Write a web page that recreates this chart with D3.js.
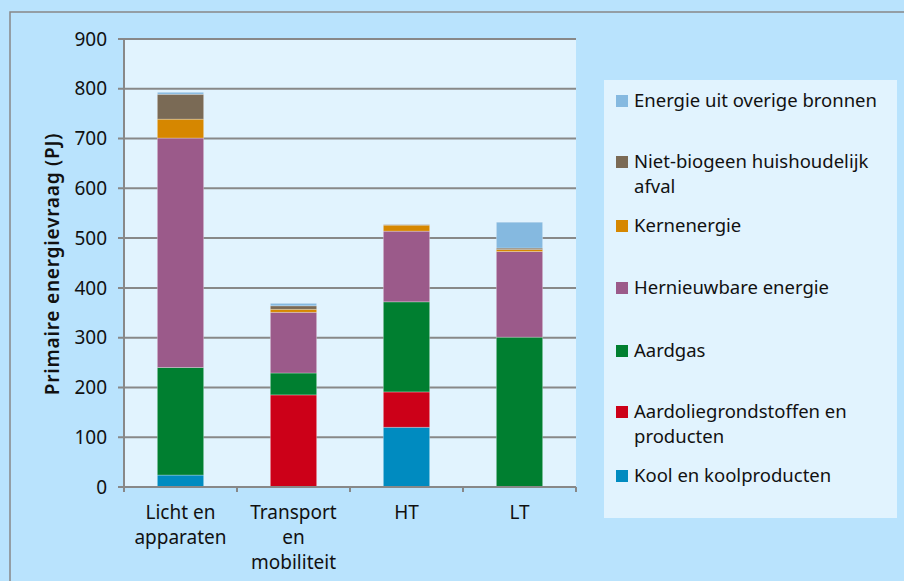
<!DOCTYPE html>
<html>
<head>
<meta charset="utf-8">
<script src="https://cdn.jsdelivr.net/npm/d3@7"></script>
<style>
  body { margin: 0; background: #b9e3fd; }
  svg { display: block; font-family: "Noto Sans", "DejaVu Sans", sans-serif; }
</style>
</head>
<body>
<div id="chart"></div>
<script>
// data
var categories = [["Licht en", "apparaten"], ["Transport", "en", "mobiliteit"], ["HT"], ["LT"]];
var series = ["Kool en koolproducten", "Aardoliegrondstoffen en producten", "Aardgas",
              "Hernieuwbare energie", "Kernenergie", "Niet-biogeen huishoudelijk afval",
              "Energie uit overige bronnen"];
var kool        = [24, 0, 120, 1];
var aardolie    = [0, 185, 71, 0];
var aardgas     = [216, 44, 181, 300];
var hernieuwbaar = [461, 122, 142, 172];
var kern        = [38, 6, 12, 4];
var afval       = [50, 7, 1, 3];
var overige     = [4, 5, 0, 52];
var yTicks = [0, 100, 200, 300, 400, 500, 600, 700, 800, 900];
var colors = ["#008bc0", "#cc0018", "#007f30", "#9b5a8a", "#d68700", "#7a6a55", "#85b9e0"];

var W = 904, H = 581;
var FS = 19;
var svg = d3.select("#chart").append("svg").attr("width", W).attr("height", H);

// outer frame
svg.append("rect").attr("x", 10).attr("y", 12).attr("width", W).attr("height", H)
    .attr("fill", "#b9e3fd").attr("stroke", "#888").attr("stroke-width", 1.5);

var plot = {left: 124, right: 576, top: 39, bottom: 487};
svg.append("rect").attr("x", plot.left).attr("y", plot.top)
    .attr("width", plot.right - plot.left).attr("height", plot.bottom - plot.top)
    .attr("fill", "#e1f3fe");

var x = d3.scaleBand().domain(d3.range(categories.length))
    .range([plot.left, plot.right]).paddingInner(0.59).paddingOuter(0.295);
var band = d3.scaleBand().domain(d3.range(categories.length)).range([plot.left, plot.right]);
var y = d3.scaleLinear().domain([0, 900]).range([plot.bottom, plot.top]);

// grid
svg.append("g").selectAll("line").data(yTicks.slice(1)).enter().append("line")
    .attr("x1", plot.left - 6).attr("x2", plot.right)
    .attr("y1", d => y(d)).attr("y2", d => y(d))
    .attr("stroke", "#888").attr("stroke-width", 2);

// stacked bars
var table = categories.map(function (c, i) {
    return {i: i, s0: kool[i], s1: aardolie[i], s2: aardgas[i], s3: hernieuwbaar[i],
            s4: kern[i], s5: afval[i], s6: overige[i]};
});
var stack = d3.stack().keys(["s0", "s1", "s2", "s3", "s4", "s5", "s6"])(table);
svg.append("g").selectAll("g").data(stack).enter().append("g")
    .attr("fill", (d, k) => colors[k])
    .selectAll("rect").data(d => d).enter().append("rect")
    .attr("x", d => x(d.data.i))
    .attr("width", x.bandwidth())
    .attr("y", d => y(d[1]))
    .attr("height", d => Math.max(0, y(d[0]) - y(d[1])))
    .attr("stroke", "rgba(255,255,255,0.35)").attr("stroke-width", 0.8);

// axes lines
svg.append("line").attr("x1", plot.left).attr("x2", plot.left)
    .attr("y1", plot.top).attr("y2", plot.bottom + 5).attr("stroke", "#888").attr("stroke-width", 2);
svg.append("line").attr("x1", plot.left - 6).attr("x2", plot.right)
    .attr("y1", plot.bottom).attr("y2", plot.bottom).attr("stroke", "#888").attr("stroke-width", 2);
svg.append("g").selectAll("line").data(d3.range(categories.length + 1)).enter().append("line")
    .attr("x1", d => plot.left + d * band.bandwidth()).attr("x2", d => plot.left + d * band.bandwidth())
    .attr("y1", plot.bottom).attr("y2", plot.bottom + 5).attr("stroke", "#888").attr("stroke-width", 2);

// y tick labels
svg.append("g").selectAll("text").data(yTicks).enter().append("text")
    .attr("x", plot.left - 17).attr("y", d => y(d)).attr("dy", "0.35em")
    .attr("text-anchor", "end").attr("font-size", FS).attr("fill", "#111")
    .text(d => d);

// y axis title
svg.append("text").attr("transform", "translate(59,264) rotate(-90)")
    .attr("text-anchor", "middle").attr("font-size", FS).attr("font-weight", 600)
    .attr("letter-spacing", 0.8).attr("fill", "#111")
    .text("Primaire energievraag (PJ)");

// category labels
categories.forEach(function (lines, i) {
    var t = svg.append("text").attr("text-anchor", "middle").attr("font-size", FS).attr("fill", "#111");
    lines.forEach(function (l, j) {
        t.append("tspan").attr("x", band(i) + band.bandwidth() / 2).attr("y", 519 + j * 25).text(l);
    });
});

// legend
svg.append("rect").attr("x", 604).attr("y", 80).attr("width", 293).attr("height", 438).attr("fill", "#e1f3fe");
var legendItems = [
    {k: 6, lines: ["Energie uit overige bronnen"], y: 101},
    {k: 5, lines: ["Niet-biogeen huishoudelijk", "afval"], y: 162},
    {k: 4, lines: ["Kernenergie"], y: 226},
    {k: 3, lines: ["Hernieuwbare energie"], y: 288},
    {k: 2, lines: ["Aardgas"], y: 351},
    {k: 1, lines: ["Aardoliegrondstoffen en", "producten"], y: 412},
    {k: 0, lines: ["Kool en koolproducten"], y: 476}
];
var lg = svg.append("g").selectAll("g").data(legendItems).enter().append("g");
lg.append("rect").attr("x", 616).attr("y", d => d.y - 6).attr("width", 12).attr("height", 12)
    .attr("fill", d => colors[d.k]);
lg.append("text").attr("font-size", 18.5).attr("fill", "#111")
    .each(function (d) {
        var t = d3.select(this);
        d.lines.forEach(function (l, j) {
            t.append("tspan").attr("x", 634).attr("y", d.y + j * 24.5).attr("dy", "0.35em").text(l);
        });
    });
</script>
</body>
</html>
